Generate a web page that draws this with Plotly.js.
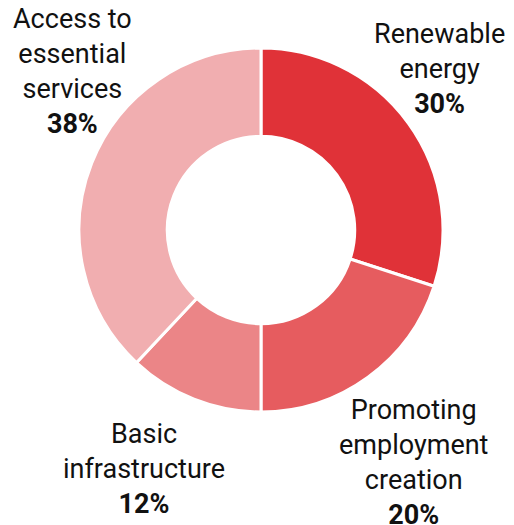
<!DOCTYPE html>
<html>
<head>
<meta charset="utf-8">
<script src="https://cdn.plot.ly/plotly-3.0.1.min.js"></script>
<style>html,body{margin:0;padding:0;background:#fff;}#chart{width:514px;height:525px;}</style>
</head>
<body>
<div id="chart"></div>
<script>
const categories = ["Renewable energy", "Promoting employment creation", "Basic infrastructure", "Access to essential services"];
const labelLines = ["Renewable<br>energy", "Promoting<br>employment<br>creation", "Basic<br>infrastructure", "Access to<br>essential<br>services"];
const values = [30, 20, 12, 38];
const colors = ["#e03238", "#e65c5f", "#eb8587", "#f1aeb0"];

// label placement (paper coords)
const labelPos = [[439, 69], [413, 462], [144, 469], [72, 72]];

const W = 514, H = 525;
const cx = 261, cy = 230, R = 182;

const annotations = categories.map((c, i) => ({
  xref: "paper", yref: "paper",
  x: labelPos[i][0] / W, y: 1 - labelPos[i][1] / H,
  xanchor: "center", yanchor: "middle",
  align: "center", showarrow: false,
  text: labelLines[i] + "<br><b>" + values[i] + "%</b>",
  font: {family: "Roboto", size: 27, color: "#111"}
}));

const trace = {
  type: "pie",
  labels: categories,
  values: values,
  hole: 0.515,
  sort: false,
  direction: "clockwise",
  rotation: 0,
  textinfo: "none",
  hoverinfo: "label+percent",
  marker: {colors: colors, line: {color: "#ffffff", width: 3}},
  domain: {x: [(cx - R) / W, (cx + R) / W], y: [1 - (cy + R) / H, 1 - (cy - R) / H]},
  showlegend: false
};

Plotly.newPlot("chart", [trace], {
  width: W, height: H,
  margin: {l: 0, r: 0, t: 0, b: 0},
  paper_bgcolor: "#fff",
  showlegend: false,
  annotations: annotations
}, {displayModeBar: false, staticPlot: true});
</script>
</body>
</html>
